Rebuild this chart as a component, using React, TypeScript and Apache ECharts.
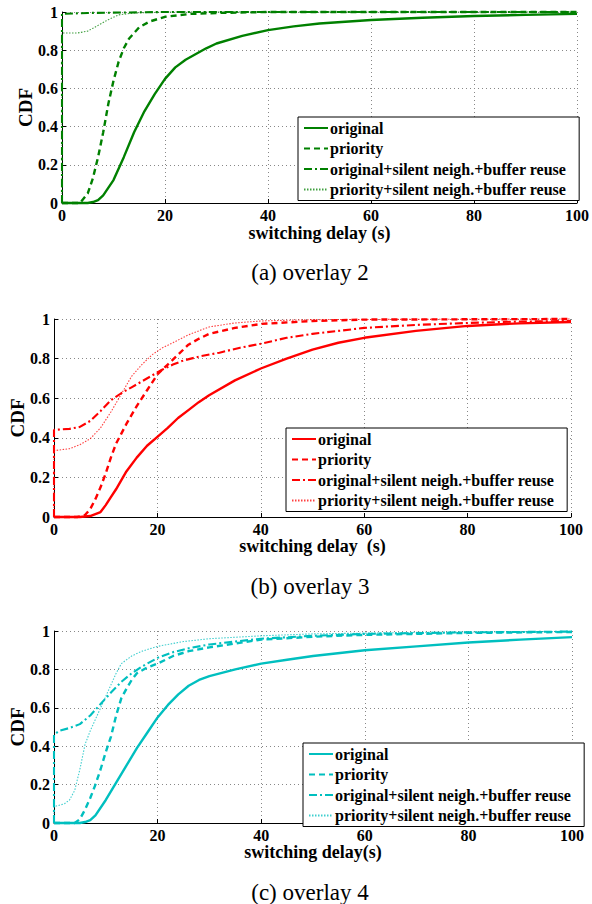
import React, { useEffect, useRef } from "react";
import * as echarts from "echarts";

// ---------- data ----------
const LEGEND_NAMES = [
  "original",
  "priority",
  "original+silent neigh.+buffer reuse",
  "priority+silent neigh.+buffer reuse",
];
const X_TICKS_MAX = 100;
const CAPTIONS = ["(a) overlay 2", "(b) overlay 3", "(c) overlay 4"];
const X_NAMES = ["switching delay (s)", "switching delay  (s)", "switching delay(s)"];
const Y_NAME = "CDF";

// overlay 2 (green)
const a_original = [[0,0],[5,0],[6,0.005],[7,0.015],[8,0.04],[10,0.12],[12,0.24],[14,0.37],[16,0.48],[18,0.57],[20,0.65],[22,0.71],[24,0.75],[26,0.78],[28,0.81],[30,0.835],[35,0.875],[40,0.905],[45,0.925],[50,0.94],[60,0.958],[70,0.97],[80,0.979],[90,0.985],[100,0.99]];
const a_priority = [[0,0],[3.5,0],[5,0.05],[6,0.13],[7,0.24],[8,0.37],[9,0.52],[10,0.64],[11,0.74],[12,0.81],[13,0.86],[15,0.92],[17,0.95],[20,0.975],[25,0.99],[30,0.995],[40,1],[100,1]];
const a_origSilent = [[0,0],[0,0.99],[5,0.995],[20,1],[100,1]];
const a_prioSilent = [[0,0],[0,0.89],[3,0.89],[5,0.9],[7,0.93],[9,0.96],[11,0.985],[14,0.995],[20,1],[100,1]];

// overlay 3 (red)
const b_original = [[0,0],[5,0],[7,0.005],[9,0.025],[10,0.06],[11,0.1],[12,0.14],[14,0.23],[16,0.3],[18,0.36],[20,0.405],[22,0.45],[24,0.5],[26,0.54],[28,0.58],[30,0.615],[35,0.69],[40,0.75],[45,0.8],[50,0.845],[55,0.88],[60,0.905],[70,0.94],[80,0.965],[90,0.978],[100,0.985]];
const b_priority = [[0,0],[4.5,0],[6,0.01],[7,0.04],[8,0.09],[9,0.15],[10,0.22],[11,0.3],[12,0.37],[13,0.42],[14,0.47],[16,0.56],[18,0.64],[20,0.72],[22,0.77],[24,0.82],[26,0.87],[28,0.9],[30,0.925],[35,0.955],[40,0.975],[50,0.99],[60,0.997],[100,1]];
const b_origSilent = [[0,0],[0,0.44],[3,0.445],[5,0.455],[7,0.485],[9,0.535],[11,0.59],[13,0.625],[15,0.655],[17,0.685],[19,0.715],[21,0.745],[23,0.77],[25,0.79],[28,0.81],[32,0.83],[36,0.855],[40,0.875],[45,0.905],[50,0.925],[60,0.955],[70,0.97],[80,0.98],[90,0.987],[100,0.99]];
const b_prioSilent = [[0,0],[0,0.335],[3,0.345],[5,0.365],[7,0.395],[9,0.45],[11,0.53],[13,0.62],[15,0.71],[17,0.77],[19,0.82],[21,0.855],[23,0.88],[26,0.92],[30,0.96],[35,0.98],[40,0.99],[50,0.997],[100,1]];

// overlay 4 (cyan)
const c_original = [[0,0],[5,0],[6,0.005],[7,0.015],[8,0.04],[10,0.12],[12,0.21],[14,0.3],[16,0.39],[18,0.47],[20,0.55],[22,0.615],[24,0.67],[26,0.715],[28,0.745],[30,0.765],[35,0.8],[40,0.83],[45,0.85],[50,0.87],[60,0.9],[70,0.92],[80,0.94],[90,0.955],[100,0.968]];
const c_priority = [[0,0],[4,0],[5,0.02],[6,0.07],[7,0.13],[8,0.2],[9,0.28],[10,0.37],[11,0.45],[12,0.56],[13,0.65],[14,0.7],[15,0.745],[16,0.78],[18,0.81],[20,0.83],[23,0.87],[26,0.895],[30,0.915],[35,0.935],[40,0.955],[50,0.97],[60,0.98],[80,0.99],[100,0.995]];
const c_origSilent = [[0,0],[0,0.46],[1,0.48],[3,0.495],[5,0.515],[7,0.56],[9,0.62],[11,0.68],[13,0.735],[15,0.78],[17,0.815],[20,0.86],[23,0.89],[26,0.91],[30,0.93],[35,0.945],[40,0.96],[50,0.975],[60,0.985],[80,0.993],[100,0.997]];
const c_prioSilent = [[0,0],[0,0.085],[2,0.1],[3,0.12],[4,0.17],[5,0.28],[6,0.41],[7,0.48],[8,0.54],[9,0.6],[10,0.66],[11,0.72],[12,0.78],[13,0.83],[15,0.87],[17,0.895],[20,0.92],[25,0.945],[30,0.96],[40,0.975],[50,0.985],[70,0.993],[100,0.998]];

const PANELS = [
  { key: "a", color: "#008000", series: [a_original, a_priority, a_origSilent, a_prioSilent] },
  { key: "b", color: "#ff0000", series: [b_original, b_priority, b_origSilent, b_prioSilent] },
  { key: "c", color: "#00bfbf", series: [c_original, c_priority, c_origSilent, c_prioSilent] },
];

// ---------- layout ----------
const FONT = "'Liberation Serif', 'Times New Roman', serif";
const GRIDS = [
  { left: 62, top: 12, width: 520, height: 191 },
  { left: 53, top: 319, width: 518, height: 198 },
  { left: 53, top: 631, width: 519, height: 192 },
];
const LEGEND_POS = [
  { left: 298, top: 117 },
  { left: 286, top: 428 },
  { left: 303, top: 743 },
];
const CAPTION_Y = [272, 586, 892];
const XNAME_GAP = [21, 20, 20];
const YNAME_GAP = [27, 27, 27];
const LINE_STYLES = [
  { type: "solid", width: 2.4, opacity: 1 },
  { type: [6, 4], width: 2.4, opacity: 1 },
  { type: [8, 3, 2, 3], width: 2.1, opacity: 1 },
  { type: [1.5, 1.5], width: 1.1, opacity: 0.75 },
];

export default function App() {
  const ref = useRef<HTMLDivElement>(null);
  useEffect(() => {
    document.body.style.margin = "0";
    const chart = echarts.init(ref.current!, undefined, { renderer: "svg" });
    const grid = GRIDS.map((g) => ({ ...g, containLabel: false }));
    const xAxis = GRIDS.map((_, i) => ({
      type: "value",
      gridIndex: i,
      min: 0,
      max: X_TICKS_MAX,
      interval: 20,
      name: X_NAMES[i],
      nameLocation: "middle",
      nameGap: XNAME_GAP[i],
      nameMoveOverlap: false,
      nameTextStyle: { fontFamily: FONT, fontWeight: "bold", fontSize: 18, color: "#000" },
      axisLine: { show: true, lineStyle: { color: "#000", width: 1 } },
      axisTick: { show: true, inside: true, length: 4, lineStyle: { color: "#000" } },
      axisLabel: { margin: 4, fontFamily: FONT, fontWeight: "bold", fontSize: 16, color: "#000" },
      splitLine: { show: true, lineStyle: { type: [1, 3], color: "#888", width: 1 } },
    }));
    const yAxis = GRIDS.map((_, i) => ({
      type: "value",
      gridIndex: i,
      min: 0,
      max: 1,
      interval: 0.2,
      name: Y_NAME,
      nameLocation: "middle",
      nameRotate: 90,
      nameGap: YNAME_GAP[i],
      nameMoveOverlap: false,
      nameTextStyle: { fontFamily: FONT, fontWeight: "bold", fontSize: 19, color: "#000" },
      axisLine: { show: true, lineStyle: { color: "#000", width: 1 } },
      axisTick: { show: true, inside: true, length: 4, lineStyle: { color: "#000" } },
      axisLabel: {
        margin: 4,
        fontFamily: FONT,
        fontWeight: "bold",
        fontSize: 16,
        color: "#000",
        formatter: (v: number) => (v === 0 ? "0" : v === 1 ? "1" : v.toFixed(1)),
      },
      splitLine: { show: true, lineStyle: { type: [1, 3], color: "#888", width: 1 } },
    }));
    const series: any[] = [];
    PANELS.forEach((p, i) => {
      p.series.forEach((d, j) => {
        series.push({
          type: "line",
          name: p.key + ":" + LEGEND_NAMES[j],
          xAxisIndex: i,
          yAxisIndex: i,
          data: d,
          symbol: "none",
          showSymbol: false,
          smooth: false,
          clip: false,
          lineStyle: { color: p.color, ...LINE_STYLES[j] },
          itemStyle: { color: p.color },
          z: 10 - j,
        });
      });
    });
    const legend = PANELS.map((p, i) => ({
      show: true,
      orient: "vertical",
      left: LEGEND_POS[i].left,
      top: LEGEND_POS[i].top,
      data: LEGEND_NAMES.map((n) => p.key + ":" + n),
      formatter: (n: string) => n.slice(2),
      backgroundColor: "#fff",
      borderColor: "#000",
      borderWidth: 1,
      borderRadius: 0,
      padding: [3, 13, 3, 5],
      itemWidth: 24,
      itemHeight: 14,
      itemGap: 4.5,
      selectedMode: false,
      itemStyle: { opacity: 0 },
      textStyle: { fontFamily: FONT, fontWeight: "bold", fontSize: 16, color: "#000", padding: [0, 0, 0, -3] },
    }));
    const graphic = CAPTIONS.map((c, i) => ({
      type: "text",
      x: 310,
      y: CAPTION_Y[i],
      style: {
        text: c,
        font: `23px ${FONT}`,
        fill: "#000",
        textAlign: "center",
        textVerticalAlign: "middle",
      },
    }));
    chart.setOption({
      animation: false,
      backgroundColor: "#fff",
      grid,
      xAxis,
      yAxis,
      series,
      legend,
      graphic,
    });
    return () => chart.dispose();
  }, []);
  return <div ref={ref} style={{ width: 592, height: 904 }} />;
}
